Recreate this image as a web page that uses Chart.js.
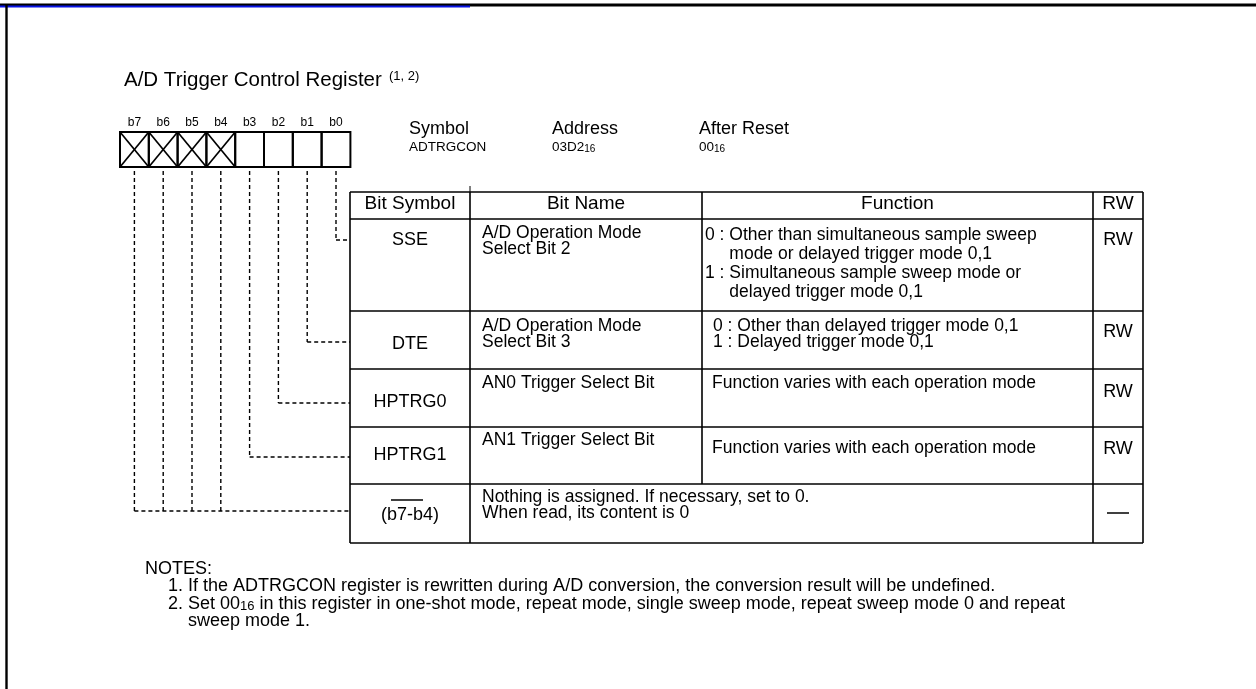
<!DOCTYPE html>
<html>
<head>
<meta charset="utf-8">
<script src="https://cdn.jsdelivr.net/npm/chart.js@4.4.0/dist/chart.umd.min.js"></script>
<style>
  html, body { margin: 0; padding: 0; background: #fff; }
  #wrap { width: 1256px; height: 689px; position: relative; }
</style>
</head>
<body>
<div id="wrap"><canvas id="regChart"></canvas></div>
<script>
// register content
const titleText = 'A/D Trigger Control Register';
const titleNote = '(1, 2)';
const bitLabels = ['b7', 'b6', 'b5', 'b4', 'b3', 'b2', 'b1', 'b0'];
const reservedBits = [true, true, true, true, false, false, false, false];
const infoHeads = ['Symbol', 'Address', 'After Reset'];
const infoValues = ['ADTRGCON', '03D2<16>', '00<16>'];
const headers = ['Bit Symbol', 'Bit Name', 'Function', 'RW'];
const bitSymbols = ['SSE', 'DTE', 'HPTRG0', 'HPTRG1', '(b7-b4)'];
const bitNames = [
  ['A/D Operation Mode', 'Select Bit 2'],
  ['A/D Operation Mode', 'Select Bit 3'],
  ['AN0 Trigger Select Bit'],
  ['AN1 Trigger Select Bit'],
  []
];
// '\t' = continuation line, indented after "0 : "
const functions = [
  ['0 : Other than simultaneous sample sweep', '\tmode or delayed trigger mode 0,1',
   '1 : Simultaneous sample sweep mode or', '\tdelayed trigger mode 0,1'],
  ['0 : Other than delayed trigger mode 0,1', '1 : Delayed trigger mode 0,1'],
  ['Function varies with each operation mode'],
  ['Function varies with each operation mode'],
  ['Nothing is assigned. If necessary, set to 0.', 'When read, its content is 0']
];
const rwValues = ['RW', 'RW', 'RW', 'RW', '\u2014'];
const rowBits = [[0], [1], [2], [3], [4, 5, 6, 7]];
const notes = [
  'NOTES:',
  '1. If the ADTRGCON register is rewritten during A/D conversion, the conversion result will be undefined.',
  '2. Set 00<16> in this register in one-shot mode, repeat mode, single sweep mode, repeat sweep mode 0 and repeat',
  '\tsweep mode 1.'
];

// layout
const FONT = '"Liberation Sans", Arial, Helvetica, sans-serif';
const cellX0 = 120, cellW = 28.8, cellY0 = 132, cellY1 = 167;
const colX = [350, 470, 702, 1093, 1143];
const tableTop = 192, headBottom = 219;
const rowY = [219, 311, 369, 427, 484, 543];
const symOff = [21, 33, 33, 28, 31];
const leadOff = [21, 31, 34, 30, 27];
const nameOff = [14, 15, 14, 13, 0];
const funcOff = [16, 15, 14, 21, 13];
const funcPad = [3, 11, 10, 10, 12];
const funcGap = [19, 16.5, 16, 16, 16.5];
const rwOff = [21, 21, 23, 22, 29];
const textSize = 17.5;

const framePlugin = {
  id: 'registerDiagram',
  afterDraw(chart) {
    const ctx = chart.ctx;
    const sx = v => chart.scales.x.getPixelForValue(v);
    const sy = v => chart.scales.y.getPixelForValue(v);

    const line = (x1, y1, x2, y2, w, col, dash) => {
      ctx.save();
      ctx.beginPath();
      ctx.lineWidth = w;
      ctx.strokeStyle = col || '#000';
      ctx.setLineDash(dash || []);
      ctx.moveTo(sx(x1), sy(y1));
      ctx.lineTo(sx(x2), sy(y2));
      ctx.stroke();
      ctx.restore();
    };
    // text with <16> subscripts
    const rich = (str, x, y, size, align) => {
      const parts = str.split(/<(\d+)>/);
      ctx.textBaseline = 'middle';
      ctx.fillStyle = '#000';
      let total = 0;
      parts.forEach((p, i) => {
        ctx.font = (i % 2 ? Math.round(size * 0.72) : size) + 'px ' + FONT;
        total += ctx.measureText(p).width;
      });
      let cx = sx(x);
      if (align === 'center') cx -= total / 2;
      parts.forEach((p, i) => {
        const sub = i % 2 === 1;
        ctx.font = (sub ? Math.round(size * 0.72) : size) + 'px ' + FONT;
        ctx.textAlign = 'left';
        ctx.fillText(p, cx, sy(y) + (sub ? size * 0.15 : 0));
        cx += ctx.measureText(p).width;
      });
    };
    const widthOf = (s, size) => {
      ctx.font = size + 'px ' + FONT;
      return ctx.measureText(s).width;
    };

    // page frame
    line(0, 5, 1256, 5, 3, '#000');
    line(0, 6.5, 470, 6.5, 2, '#0a14e6');
    line(6.5, 4, 6.5, 689, 2.4, '#000');

    // title
    rich(titleText, 124, 80, 20.5, 'left');
    rich(titleNote, 389, 76, 13, 'left');

    // bit cells
    bitLabels.forEach((b, i) => {
      const x = cellX0 + i * cellW;
      rich(b, x + cellW / 2, 123, 12, 'center');
      ctx.lineWidth = 2;
      ctx.strokeStyle = '#000';
      ctx.strokeRect(sx(x), sy(cellY0), sx(x + cellW) - sx(x), sy(cellY1) - sy(cellY0));
      if (reservedBits[i]) {
        line(x, cellY0, x + cellW, cellY1, 1.7);
        line(x + cellW, cellY0, x, cellY1, 1.7);
      }
    });

    // symbol / address / reset
    const infoX = [409, 552, 699];
    infoHeads.forEach((h, i) => {
      rich(h, infoX[i], 129, 18, 'left');
      rich(infoValues[i], infoX[i], 147, 13.5, 'left');
    });

    // table grid
    const tw = 1.6;
    line(colX[0], tableTop, colX[4], tableTop, tw);
    line(colX[1], tableTop - 6, colX[1], tableTop, 1);
    rowY.forEach(y => line(colX[0], y, colX[4], y, tw));
    line(colX[0], tableTop, colX[0], rowY[5], tw);
    line(colX[4], tableTop, colX[4], rowY[5], tw);
    line(colX[1], tableTop, colX[1], rowY[5], tw);
    line(colX[2], tableTop, colX[2], rowY[4], tw);
    line(colX[3], tableTop, colX[3], rowY[5], tw);

    headers.forEach((h, i) => {
      rich(h, (colX[i] + colX[i + 1]) / 2, 204, 19, 'center');
    });

    const symX = (colX[0] + colX[1]) / 2;
    const rwX = (colX[3] + colX[4]) / 2;
    const ind = widthOf('0 : ', textSize);
    bitSymbols.forEach((s, r) => {
      const top = rowY[r];
      rich(s, symX, top + symOff[r], 18, 'center');
      bitNames[r].forEach((n, k) => rich(n, colX[1] + 12, top + nameOff[r] + k * 16.5, textSize, 'left'));
      const fx = r === 4 ? colX[1] + funcPad[r] : colX[2] + funcPad[r];
      functions[r].forEach((f, k) => {
        const cont = f.startsWith('\t');
        rich(f.replace('\t', ''), fx + (cont ? ind : 0), top + funcOff[r] + k * funcGap[r], textSize, 'left');
      });
      if (rwValues[r] === '\u2014') {
        line(rwX - 11, top + rwOff[r], rwX + 11, top + rwOff[r], 1.5);
      } else {
        rich(rwValues[r], rwX, top + rwOff[r], 18, 'center');
      }
      if (r === 4) {
        line(symX - 19, top + 16, symX + 13, top + 16, 1.5);
      }

      // dashed leaders from the bit cells
      const dash = [4, 3];
      const ly = top + leadOff[r];
      const xs = rowBits[r].map(bit => cellX0 + (7 - bit) * cellW + cellW / 2);
      xs.forEach(x => line(x, cellY1 + 4, x, ly, 1.4, '#000', dash));
      line(Math.min(...xs), ly, colX[0], ly, 1.4, '#000', dash);
    });

    // notes
    const ind2 = widthOf('2. ', 18);
    notes.forEach((n, i) => {
      const x = i === 0 ? 145 : 168;
      const cont = n.startsWith('\t');
      rich(n.replace('\t', ''), x + (cont ? ind2 : 0), 569 + i * 17.5, 18, 'left');
    });
  }
};

const ctx = document.getElementById('regChart').getContext('2d');
const regChart = new Chart(ctx, {
  type: 'scatter',
  data: { datasets: [{ data: [], pointRadius: 0 }] },
  options: {
    responsive: true,
    maintainAspectRatio: false,
    animation: false,
    events: [],
    layout: { padding: 0 },
    plugins: { legend: { display: false }, tooltip: { enabled: false } },
    scales: {
      x: { type: 'linear', min: 0, max: 1256, display: false },
      y: { type: 'linear', min: 0, max: 689, reverse: true, display: false }
    }
  },
  plugins: [framePlugin]
});
</script>
</body>
</html>
